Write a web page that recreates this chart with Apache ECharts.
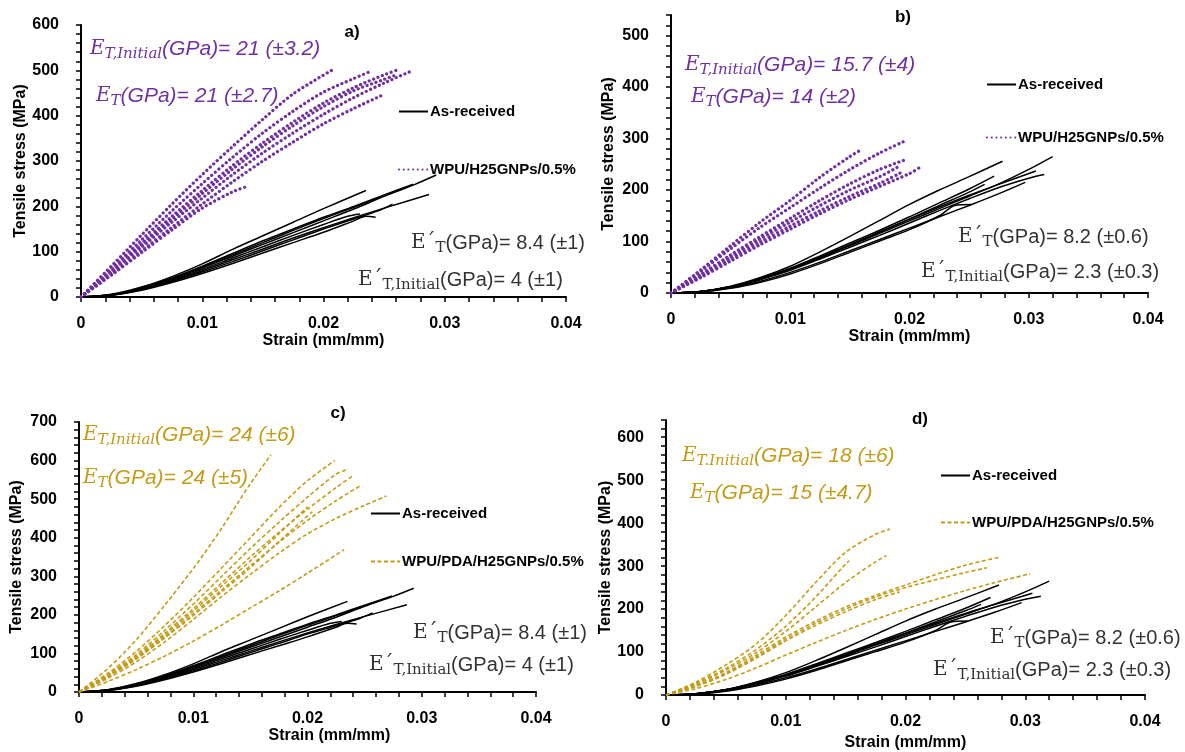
<!DOCTYPE html>
<html>
<head>
<meta charset="utf-8">
<script src="https://cdn.jsdelivr.net/npm/echarts@6.0.0/dist/echarts.min.js"></script>
<style>
  html, body { margin: 0; padding: 0; background: #fff; }
  #chart { width: 1185px; height: 752px; }
</style>
</head>
<body>
<div id="chart"></div>
<script>
// ---- data: each curve is a list of [strain, stress(MPa)] ----

// as-received specimens, panels a) and c)
var asReceivedAC = [
  [[0,0],[0.0025,6],[0.005,22],[0.0075,45],[0.01,73],[0.0125,105],[0.015,135],[0.0175,165],[0.02,195],[0.0235,235]],
  [[0,0],[0.0025,5],[0.005,20],[0.0075,42],[0.01,68],[0.0125,96],[0.015,124],[0.0175,150],[0.02,176],[0.0225,200],[0.025,225],[0.0274,249]],
  [[0,0],[0.0025,5],[0.005,19],[0.0075,40],[0.01,64],[0.0125,90],[0.015,116],[0.0175,142],[0.02,168],[0.0225,194],[0.025,222],[0.0275,248],[0.0293,269]],
  [[0,0],[0.0025,4],[0.005,17],[0.0075,36],[0.01,58],[0.0125,82],[0.015,106],[0.0175,130],[0.02,153],[0.0225,175],[0.025,196],[0.0287,226]],
  [[0,0],[0.0025,4],[0.005,16],[0.0075,34],[0.01,55],[0.0125,78],[0.015,102],[0.0175,126],[0.02,150],[0.0225,172],[0.0245,190],[0.0257,205]],
  [[0,0],[0.0025,4],[0.005,15],[0.0075,32],[0.01,52],[0.0125,74],[0.015,97],[0.0175,120],[0.02,143],[0.0225,168],[0.0235,178],[0.0243,176]],
  [[0,0],[0.0025,5],[0.005,18],[0.0075,38],[0.01,61],[0.0125,86],[0.015,111],[0.0175,136],[0.02,160],[0.022,178],[0.023,183]],
  [[0,0],[0.0025,5],[0.005,19],[0.0075,41],[0.01,66],[0.0125,93],[0.015,120],[0.0175,147],[0.02,173],[0.0225,198],[0.0247,220]]
];

// WPU/H25GNPs/0.5%, panel a)
var wpuA = [
  [[0,0],[0.0025,68],[0.005,137],[0.0075,205],[0.01,270],[0.0125,332],[0.015,392],[0.0175,448],[0.0208,502]],
  [[0,0],[0.0025,62],[0.005,126],[0.0075,190],[0.01,250],[0.0125,308],[0.015,362],[0.0175,410],[0.02,452],[0.0225,482],[0.024,499]],
  [[0,0],[0.0025,58],[0.005,118],[0.0075,178],[0.01,235],[0.0125,290],[0.015,340],[0.0175,386],[0.02,428],[0.0225,462],[0.025,490],[0.026,500]],
  [[0,0],[0.0025,54],[0.005,110],[0.0075,165],[0.01,218],[0.0125,270],[0.015,318],[0.0175,362],[0.02,403],[0.0225,440],[0.025,472],[0.0274,500]],
  [[0,0],[0.0025,50],[0.005,102],[0.0075,154],[0.01,205],[0.0125,254],[0.015,300],[0.0175,342],[0.02,382],[0.0225,416],[0.025,447]],
  [[0,0],[0.0025,56],[0.005,114],[0.0075,172],[0.01,228],[0.0125,282],[0.015,332],[0.0175,378],[0.02,420],[0.0225,455],[0.025,480],[0.0258,488]],
  [[0,0],[0.0025,48],[0.005,98],[0.0075,148],[0.01,196],[0.0125,232],[0.0135,242]]
];

// as-received specimens, panels b) and d)
var asReceivedBD = [
  [[0,0],[0.0025,3],[0.005,13],[0.0075,30],[0.01,52],[0.0125,80],[0.015,110],[0.0175,141],[0.02,172],[0.0225,200],[0.025,226],[0.0278,256]],
  [[0,0],[0.0025,3],[0.005,12],[0.0075,27],[0.01,46],[0.0125,68],[0.015,92],[0.0175,116],[0.02,140],[0.0225,164],[0.025,188],[0.0275,212],[0.03,240],[0.032,265]],
  [[0,0],[0.0025,3],[0.005,11],[0.0075,26],[0.01,44],[0.0125,66],[0.015,89],[0.0175,112],[0.02,136],[0.0225,160],[0.025,183],[0.0275,205],[0.03,223],[0.0313,230]],
  [[0,0],[0.0025,3],[0.005,12],[0.0075,27],[0.01,46],[0.0125,69],[0.015,93],[0.0175,118],[0.02,143],[0.0225,167],[0.025,190],[0.0275,211],[0.0306,237]],
  [[0,0],[0.0025,2],[0.005,10],[0.0075,23],[0.01,40],[0.0125,60],[0.015,82],[0.0175,104],[0.02,126],[0.0225,148],[0.025,170],[0.0275,193],[0.0297,215]],
  [[0,0],[0.0025,3],[0.005,12],[0.0075,28],[0.01,48],[0.0125,72],[0.015,97],[0.0175,122],[0.02,148],[0.0225,175],[0.025,202],[0.0271,227]],
  [[0,0],[0.0025,2],[0.005,9],[0.0075,21],[0.01,37],[0.0125,57],[0.015,79],[0.0175,101],[0.02,123],[0.0225,150],[0.0238,170],[0.0252,172]],
  [[0,0],[0.0025,3],[0.005,12],[0.0075,28],[0.01,47],[0.0125,70],[0.015,94],[0.0175,119],[0.02,144],[0.0225,170],[0.025,196],[0.0263,211]]
];

// WPU/H25GNPs/0.5%, panel b)
var wpuB = [
  [[0,0],[0.0025,45],[0.005,92],[0.0075,138],[0.01,180],[0.0125,225],[0.015,265],[0.016,279]],
  [[0,0],[0.0025,42],[0.005,86],[0.0075,128],[0.01,166],[0.0125,204],[0.015,240],[0.0175,272],[0.0195,294]],
  [[0,0],[0.0025,36],[0.005,74],[0.0075,110],[0.01,145],[0.0125,180],[0.015,212],[0.0175,240],[0.0198,260]],
  [[0,0],[0.0025,30],[0.005,62],[0.0075,94],[0.01,124],[0.0125,154],[0.015,182],[0.0175,207],[0.02,232],[0.0208,243]],
  [[0,0],[0.0025,34],[0.005,70],[0.0075,105],[0.01,138],[0.0125,170],[0.015,200],[0.0175,226],[0.0192,247]],
  [[0,0],[0.0025,32],[0.005,66],[0.0075,99],[0.01,130],[0.0125,160],[0.015,188],[0.0175,213],[0.0193,234]]
];

// WPU/PDA/H25GNPs/0.5%, panel c)
var pdaC = [
  [[0,0],[0.0025,60],[0.005,135],[0.0075,225],[0.01,320],[0.0125,425],[0.014,495],[0.015,540],[0.0168,615]],
  [[0,0],[0.0025,48],[0.005,105],[0.0075,172],[0.01,245],[0.0125,322],[0.015,400],[0.0175,478],[0.02,548],[0.0224,600]],
  [[0,0],[0.0025,44],[0.005,97],[0.0075,160],[0.01,228],[0.0125,300],[0.015,372],[0.0175,440],[0.02,505],[0.0225,565],[0.0236,578]],
  [[0,0],[0.0025,42],[0.005,92],[0.0075,152],[0.01,216],[0.0125,283],[0.015,350],[0.0175,414],[0.02,474],[0.0225,530],[0.0239,559]],
  [[0,0],[0.0025,40],[0.005,87],[0.0075,143],[0.01,203],[0.0125,265],[0.015,327],[0.0175,388],[0.02,445],[0.0225,496],[0.0247,536]],
  [[0,0],[0.0025,35],[0.005,78],[0.0075,130],[0.01,188],[0.0125,248],[0.015,305],[0.0175,360],[0.02,410],[0.0225,450],[0.025,484],[0.0269,508]],
  [[0,0],[0.0025,27],[0.005,58],[0.0075,93],[0.01,132],[0.0125,174],[0.015,218],[0.0175,262],[0.02,308],[0.0232,369]],
  [[0,0],[0.0025,41],[0.005,90],[0.0075,148],[0.01,210],[0.0125,275],[0.015,340],[0.0175,410],[0.02,480]],
  [[0,0],[0.0025,39],[0.005,85],[0.0075,140],[0.01,198],[0.0125,260],[0.015,322],[0.0175,390],[0.0204,467]]
];

// WPU/PDA/H25GNPs/0.5%, panel d)
var pdaD = [
  [[0,0],[0.0025,30],[0.005,70],[0.0075,118],[0.01,185],[0.0125,262],[0.015,332],[0.0175,374],[0.0187,386]],
  [[0,0],[0.0025,27],[0.005,62],[0.0075,105],[0.01,160],[0.0125,228],[0.015,305],[0.0153,312]],
  [[0,0],[0.0025,25],[0.005,58],[0.0075,98],[0.01,148],[0.0125,205],[0.015,262],[0.0175,310],[0.0184,324]],
  [[0,0],[0.0025,22],[0.005,52],[0.0075,92],[0.01,135],[0.0125,172],[0.015,205],[0.0175,232],[0.02,256],[0.0225,280],[0.025,302],[0.0279,321]],
  [[0,0],[0.0025,21],[0.005,50],[0.0075,88],[0.01,130],[0.0125,167],[0.015,200],[0.0175,228],[0.02,250],[0.0225,268],[0.025,285],[0.0268,296]],
  [[0,0],[0.0025,15],[0.005,36],[0.0075,63],[0.01,93],[0.0125,122],[0.015,150],[0.0175,176],[0.02,200],[0.0225,222],[0.025,243],[0.0275,262],[0.0304,282]],
  [[0,0],[0.0025,20],[0.005,48],[0.0075,85],[0.01,126],[0.0125,162],[0.015,194],[0.0175,222],[0.0195,240]]
];

var yMax = [600, 540, 700, 640];
var panelLabels = ['a)', 'b)', 'c)', 'd)'];
var nameRef = 'As-received';
var nameWpu = 'WPU/H25GNPs/0.5%';
var namePda = 'WPU/PDA/H25GNPs/0.5%';

// ---- styles ----
var SANS = 'Liberation Sans';
var purple = '#7030a0';
var gold = '#c49b17';
var blackStyle = { color: '#000', width: 1.5 };
var purpleStyle = { color: purple, width: 3.2, type: [0.1, 4.6], cap: 'round' };
var goldStyle = { color: gold, width: 1.6, type: [4, 2.5] };

var chart = echarts.init(document.getElementById('chart'));

var grids = [
  { left: 81, top: 25, width: 485, height: 272 },
  { left: 671, top: 15, width: 477, height: 278 },
  { left: 79, top: 422, width: 457, height: 270 },
  { left: 666, top: 420, width: 479, height: 275 }
];

function ticks() {
  return { show: true, inside: false, length: 5, lineStyle: { color: '#000', width: 1.5 } };
}
function minors() {
  return { show: true, splitNumber: 5, length: 5, lineStyle: { color: '#000', width: 1.5 } };
}

function xAxisFor(i, gap, shift) {
  return {
    type: 'value', gridIndex: i, min: 0, max: 0.04, interval: 0.01,
    name: 'Strain (mm/mm)', nameLocation: 'middle', nameGap: gap,
    nameTextStyle: { fontFamily: SANS, fontWeight: 'bold', fontSize: 16, color: '#000', padding: [0, 0, 0, shift] },
    axisLine: { show: true, onZero: false, lineStyle: { color: '#000', width: 2 } },
    axisTick: ticks(),
    minorTick: minors(),
    axisLabel: {
      margin: 19, fontFamily: SANS, fontWeight: 'bold', fontSize: 16, color: '#000',
      formatter: function (v) { return String(Math.round(v * 100) / 100); }
    },
    splitLine: { show: false },
    minorSplitLine: { show: false }
  };
}

function yAxisFor(i, gap) {
  return {
    type: 'value', gridIndex: i, min: 0, max: yMax[i], interval: 100,
    name: 'Tensile stress (MPa)', nameLocation: 'middle', nameGap: gap,
    nameTextStyle: { fontFamily: SANS, fontWeight: 'bold', fontSize: 16, color: '#000' },
    axisLine: { show: true, onZero: false, lineStyle: { color: '#000', width: 2 } },
    axisTick: ticks(),
    minorTick: minors(),
    axisLabel: {
      margin: 22, fontFamily: SANS, fontWeight: 'bold', fontSize: 16, color: '#000',
      formatter: function (v) {
        var k = Math.round(v);
        return k % 100 === 0 ? String(k) : '';
      }
    },
    splitLine: { show: false },
    minorSplitLine: { show: false }
  };
}

function curves(list, name, i, style) {
  return list.map(function (pts) {
    return {
      type: 'line', name: name, xAxisIndex: i, yAxisIndex: i, data: pts,
      symbol: 'none', showSymbol: false, smooth: 0.3,
      color: style.color, itemStyle: { color: style.color },
      lineStyle: style, silent: true, animation: false
    };
  });
}

function legendFor(left, top, gap, names) {
  return {
    left: left, top: top, orient: 'vertical', itemGap: gap,
    itemWidth: 29, itemHeight: 14, selectedMode: false, data: names,
    itemStyle: { opacity: 0 },
    textStyle: { fontFamily: SANS, fontWeight: 'bold', fontSize: 15, color: '#000', padding: [0, 0, 0, -3] }
  };
}

// annotation texts: E with a subscript, followed by the value part
function anno(x, y, color, italic, eText, sub, rest) {
  var st = italic ? 'italic' : 'normal';
  return {
    type: 'text', x: x, y: y, silent: true,
    style: {
      text: '{e|' + eText + '}{s|' + sub + '}{t|' + rest + '}',
      align: 'left', verticalAlign: 'middle',
      rich: {
        e: { fill: color, fontFamily: 'DejaVu Serif', fontStyle: st, fontSize: 20, lineHeight: 26 },
        s: { fill: color, fontFamily: 'DejaVu Serif', fontStyle: st, fontSize: 15, lineHeight: 15, padding: [11, 0, 0, 0] },
        t: { fill: color, fontFamily: SANS, fontStyle: st, fontSize: italic ? 21 : 20, lineHeight: 26 }
      }
    }
  };
}

function panelTag(x, y, t) {
  return {
    type: 'text', x: x, y: y, silent: true,
    style: { text: t, fill: '#000', fontFamily: SANS, fontWeight: 'bold', fontSize: 17, align: 'center', verticalAlign: 'middle' }
  };
}

var grey = '#333';
var graphics = [
  anno(90, 49, purple, true, 'E', 'T,Initial', '(GPa)= 21 (±3.2)'),
  anno(96, 96, purple, true, 'E', 'T', '(GPa)= 21 (±2.7)'),
  anno(411, 243, grey, false, 'E´', 'T', '(GPa)= 8.4 (±1)'),
  anno(358, 280, grey, false, 'E´', 'T,Initial', '(GPa)= 4 (±1)'),

  anno(685, 65, purple, true, 'E', 'T,Initial', '(GPa)= 15.7 (±4)'),
  anno(691, 97, purple, true, 'E', 'T', '(GPa)= 14 (±2)'),
  anno(958, 237, grey, false, 'E´', 'T', '(GPa)= 8.2 (±0.6)'),
  anno(921, 272, grey, false, 'E´', 'T,Initial', '(GPa)= 2.3 (±0.3)'),

  anno(83, 435, gold, true, 'E', 'T,Initial', '(GPa)= 24 (±6)'),
  anno(83, 478, gold, true, 'E', 'T', '(GPa)= 24 (±5)'),
  anno(413, 633, grey, false, 'E´', 'T', '(GPa)= 8.4 (±1)'),
  anno(369, 665, grey, false, 'E´', 'T,Initial', '(GPa)= 4 (±1)'),

  anno(682, 456, gold, true, 'E', 'T.Initial', '(GPa)= 18 (±6)'),
  anno(690, 493, gold, true, 'E', 'T', '(GPa)= 15 (±4.7)'),
  anno(990, 638, grey, false, 'E´', 'T', '(GPa)= 8.2 (±0.6)'),
  anno(933, 670, grey, false, 'E´', 'T,Initial', '(GPa)= 2.3 (±0.3)'),

  panelTag(352, 32, panelLabels[0]),
  panelTag(903, 17, panelLabels[1]),
  panelTag(338, 413, panelLabels[2]),
  panelTag(920, 419, panelLabels[3])
];

var series = [].concat(
  curves(asReceivedAC, nameRef, 0, blackStyle),
  curves(wpuA, nameWpu, 0, purpleStyle),
  curves(asReceivedBD, nameRef, 1, blackStyle),
  curves(wpuB, nameWpu, 1, purpleStyle),
  curves(asReceivedAC, nameRef, 2, blackStyle),
  curves(pdaC, namePda, 2, goldStyle),
  curves(asReceivedBD, nameRef, 3, blackStyle),
  curves(pdaD, namePda, 3, goldStyle)
);

var option = {
  backgroundColor: '#fff',
  animation: false,
  grid: grids,
  xAxis: [xAxisFor(0, 35, 0), xAxisFor(1, 35, 0), xAxisFor(2, 36, 44), xAxisFor(3, 40, 0)],
  yAxis: [yAxisFor(0, 52), yAxisFor(1, 54), yAxisFor(2, 54), yAxisFor(3, 51)],
  legend: [
    legendFor(393, 99, 43, [nameRef, nameWpu]),
    legendFor(981, 72, 38, [nameRef, nameWpu]),
    legendFor(365, 501, 33, [nameRef, namePda]),
    legendFor(935, 463, 32, [nameRef, namePda])
  ],
  graphic: graphics,
  series: series
};

chart.setOption(option);
</script>
</body>
</html>
